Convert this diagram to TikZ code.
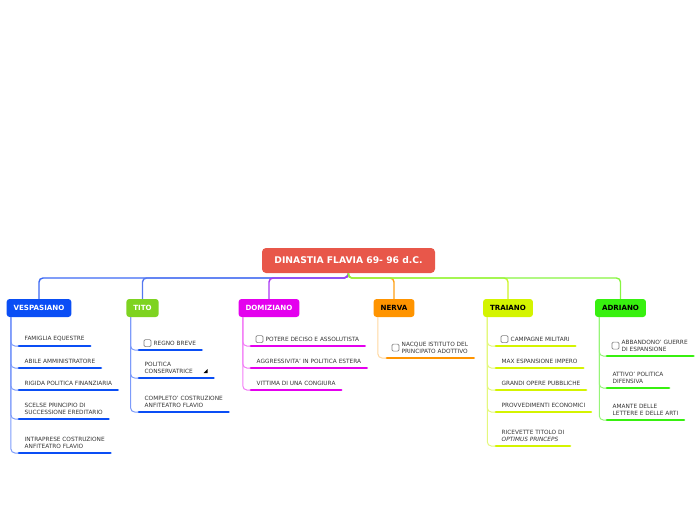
\documentclass[tikz,border=0pt]{standalone}
\usepackage{fontspec}
\setmainfont{DejaVu Sans}
\usetikzlibrary{calc}

\definecolor{rootred}{RGB}{232,87,74}
\definecolor{vblue}{RGB}{10,78,245}
\definecolor{tgreen}{RGB}{126,211,33}
\definecolor{dmag}{RGB}{228,0,238}
\definecolor{norange}{RGB}{255,148,0}
\definecolor{tryellow}{RGB}{212,244,0}
\definecolor{agreen}{RGB}{55,240,15}
% connector colours
\definecolor{vline}{RGB}{60,105,245}
\definecolor{tline}{RGB}{85,120,240}
\definecolor{dline}{RGB}{170,55,245}
\definecolor{nline}{RGB}{255,160,20}
\definecolor{trline}{RGB}{205,245,40}
\definecolor{aline}{RGB}{135,245,65}
% branch colours
\definecolor{vbranch}{RGB}{125,155,250}
\definecolor{dbranch}{RGB}{242,125,246}
\definecolor{nbranch}{RGB}{255,215,160}
\definecolor{trbranch}{RGB}{228,248,125}
\definecolor{abranch}{RGB}{150,245,120}

\begin{document}
\begin{tikzpicture}[x=1pt, y=-1pt,
  topic/.style={rounded corners=3pt, minimum height=18pt, inner xsep=7pt,
    font=\fontsize{7.1}{8}\selectfont\bfseries},
  leaf/.style={anchor=south west, align=left, inner xsep=5.5pt, inner ysep=4.5pt,
    text=black!80, font=\fontsize{5.8}{7}\selectfont},
  conn/.style={line width=1.4pt, rounded corners=4pt},
  branch/.style={line width=1pt, rounded corners=4pt},
  uline/.style={line width=2.8pt, line cap=round},
  chk/.style={draw=black!50, line width=0.7pt, rounded corners=1.2pt, fill=white}]
  \useasboundingbox (0,0) rectangle (696,520);

  % root and main topics
  \node[fill=rootred, text=white, rounded corners=4pt, minimum width=173pt,
    minimum height=25pt, font=\fontsize{9.2}{10}\selectfont\bfseries]
    (root) at (348.5,260.5) {DINASTIA FLAVIA 69- 96 d.C.};
  \coordinate (hub) at (348,278);

  \node[topic, fill=vblue, text=white]  (vesp)  at (39,308)    {VESPASIANO};
  \node[topic, fill=tgreen, text=white] (tito)  at (142.5,308) {TITO};
  \node[topic, fill=dmag, text=white]   (domi)  at (269,308)   {DOMIZIANO};
  \node[topic, fill=norange]            (nerva) at (394,308)   {NERVA};
  \node[topic, fill=tryellow]           (traia) at (508,308)   {TRAIANO};
  \node[topic, fill=agreen]             (adri)  at (620.5,308) {ADRIANO};

  \draw[conn, vline]  (root.south) -- (hub) -| (vesp.north);
  \draw[conn, tline]  (root.south) -- (hub) -| (tito.north);
  \draw[conn, dline]  (root.south) -- (hub) -| (domi.north);
  \draw[conn, nline]  (root.south) -- (hub) -| (nerva.north);
  \draw[conn, trline] (root.south) -- (hub) -| (traia.north);
  \draw[conn, aline]  (root.south) -- (hub) -| (adri.north);

  % VESPASIANO
  \node[leaf] (v1) at (19,346) {FAMIGLIA EQUESTRE};
  \node[leaf] (v2) at (19,368) {ABILE AMMINISTRATORE};
  \node[leaf] (v3) at (19,390) {RIGIDA POLITICA FINANZIARIA};
  \node[leaf] (v4) at (19,419) {SCELSE PRINCIPIO DI\\SUCCESSIONE EREDITARIO};
  \node[leaf] (v5) at (19,453) {INTRAPRESE COSTRUZIONE\\ANFITEATRO FLAVIO};
  \foreach \n in {v1,v2,v3,v4,v5} {
    \draw[branch, vbranch] ([xshift=4.5pt]vesp.south west) |- (\n.south west);
    \draw[uline, vblue] (\n.south west) -- (\n.south east);
  }

  % TITO
  \node[leaf] (t1) at (139,350) {\hspace{9pt}REGNO BREVE};
  \node[leaf] (t2) at (139,378) {POLITICA\\CONSERVATRICE\hspace{15pt}\mbox{}};
  \node[leaf] (t3) at (139,412) {COMPLETO' COSTRUZIONE\\ANFITEATRO FLAVIO};
  \foreach \n in {t1,t2,t3} {
    \draw[branch, vbranch] ([xshift=4.5pt]tito.south west) |- (\n.south west);
    \draw[uline, vblue] (\n.south west) -- (\n.south east);
  }
  \draw[chk] ([xshift=5pt]t1.west) ++(0,-3.5) rectangle ++(7,7);
  \fill ([shift={(-10,-5)}]t2.south east) -- ++(4,0) -- ++(0,-4) -- cycle;

  % DOMIZIANO
  \node[leaf] (d1) at (251,346) {\hspace{9pt}POTERE DECISO E ASSOLUTISTA};
  \node[leaf] (d2) at (251,368) {AGGRESSIVITA' IN POLITICA ESTERA};
  \node[leaf] (d3) at (251,390) {VITTIMA DI UNA CONGIURA};
  \foreach \n in {d1,d2,d3} {
    \draw[branch, dbranch] ([xshift=4.5pt]domi.south west) |- (\n.south west);
    \draw[uline, dmag] (\n.south west) -- (\n.south east);
  }
  \draw[chk] ([xshift=5pt]d1.west) ++(0,-3.5) rectangle ++(7,7);

  % NERVA
  \node[leaf] (n1) at (387,358) {\hspace{9pt}NACQUE ISTITUTO DEL\\\hspace{9pt}PRINCIPATO ADOTTIVO};
  \draw[branch, nbranch] ([xshift=4.5pt]nerva.south west) |- (n1.south west);
  \draw[uline, norange] (n1.south west) -- (n1.south east);
  \draw[chk] ([xshift=5pt]n1.west) ++(0,-3.5) rectangle ++(7,7);

  % TRAIANO
  \node[leaf] (r1) at (496,346) {\hspace{9pt}CAMPAGNE MILITARI};
  \node[leaf] (r2) at (496,368) {MAX ESPANSIONE IMPERO};
  \node[leaf] (r3) at (496,390) {GRANDI OPERE PUBBLICHE};
  \node[leaf] (r4) at (496,412) {PROVVEDIMENTI ECONOMICI};
  \node[leaf] (r5) at (496,446) {RICEVETTE TITOLO DI\\\textit{OPTIMUS PRINCEPS}};
  \foreach \n in {r1,r2,r3,r4,r5} {
    \draw[branch, trbranch] ([xshift=4.5pt]traia.south west) |- (\n.south west);
    \draw[uline, tryellow] (\n.south west) -- (\n.south east);
  }
  \draw[chk] ([xshift=5pt]r1.west) ++(0,-3.5) rectangle ++(7,7);

  % ADRIANO
  \node[leaf] (a1) at (607,356) {\hspace{9pt}ABBANDONO' GUERRE\\\hspace{9pt}DI ESPANSIONE};
  \node[leaf] (a2) at (607,388) {ATTIVO' POLITICA\\DIFENSIVA};
  \node[leaf] (a3) at (607,420) {AMANTE DELLE\\LETTERE E DELLE ARTI};
  \foreach \n in {a1,a2,a3} {
    \draw[branch, abranch] ([xshift=4.5pt]adri.south west) |- (\n.south west);
    \draw[uline, agreen] (\n.south west) -- (\n.south east);
  }
  \draw[chk] ([xshift=5pt]a1.west) ++(0,-3.5) rectangle ++(7,7);
\end{tikzpicture}
\end{document}
